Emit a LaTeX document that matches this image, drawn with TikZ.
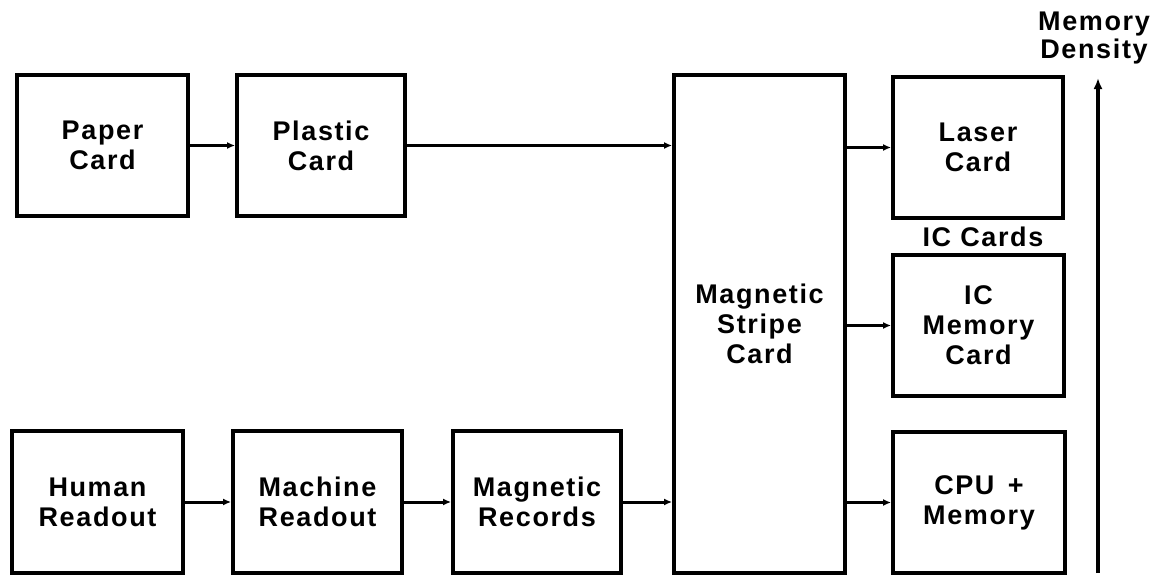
\documentclass[tikz,border=0pt]{standalone}
\usepackage{fontspec}
\setmainfont{Liberation Sans}[LetterSpace=6]
\usetikzlibrary{arrows.meta}
\begin{document}
\begin{tikzpicture}[x=1pt,y=-1pt,
  blk/.style={draw,line width=3.8pt,inner sep=0pt,align=center,
    font=\bfseries\fontsize{27}{30}\selectfont},
  lbl/.style={inner sep=0pt,align=center,font=\bfseries\fontsize{27}{28}\selectfont},
  conn/.style={line width=3pt,-{Latex[length=8pt,width=7pt]}}
]
\useasboundingbox (0,0) rectangle (1160,576);
% top row
\node[blk,minimum width=171pt,minimum height=141pt] (paper) at (102.5,145.5) {Paper\\Card};
\node[blk,minimum width=168pt,minimum height=141pt] (plastic) at (321,145.5) {Plastic\\Card};
% central
\node[blk,minimum width=171pt,minimum height=498pt] (msc) at (759.5,324) {Magnetic\\Stripe\\Card};
% right column
\node[blk,minimum width=170pt,minimum height=141pt] (laser) at (978,147.5) {Laser\\Card};
\node[blk,minimum width=171pt,minimum height=141pt] (icmem) at (978.5,325.5) {IC\\Memory\\Card};
\node[blk,minimum width=172pt,minimum height=141pt] (cpu) at (979,502.5) {CPU\,\,\,+\\Memory};
% bottom row
\node[blk,minimum width=171pt,minimum height=142pt] (human) at (97.5,502) {Human\\Readout};
\node[blk,minimum width=169pt,minimum height=142pt] (machine) at (317.5,502) {Machine\\Readout};
\node[blk,minimum width=168pt,minimum height=142pt] (records) at (537,502) {Magnetic\\Records};
% labels
\node[lbl] (iccards) at (983,237) {IC Cards};
\node[lbl] (density) at (1094,38) {Memory\\Density};
% connectors
\draw[conn] (paper.east) -- (plastic.west);
\draw[conn] (plastic.east) -- (msc.west |- plastic.east);
\draw[conn] (msc.east |- laser.west) -- (laser.west);
\draw[conn] (msc.east |- icmem.west) -- (icmem.west);
\draw[conn] (msc.east |- cpu.west) -- (cpu.west);
\draw[conn] (human.east) -- (machine.west);
\draw[conn] (machine.east) -- (records.west);
\draw[conn] (records.east) -- (msc.west |- records.east);
% memory density axis
\coordinate (vb) at (1098,573);
\coordinate (vt) at (1098,78);
\draw[line width=3.5pt,-{Latex[length=11pt,width=9pt]}] (vb) -- (vt);
\end{tikzpicture}
\end{document}
